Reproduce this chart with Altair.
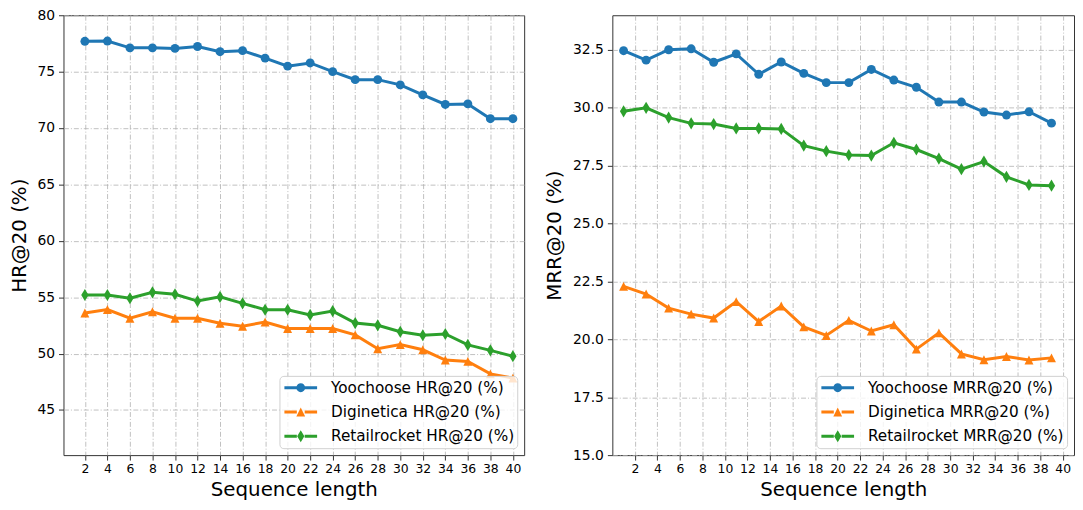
import altair as alt
import pandas as pd

# ---------------- data ----------------
x_hr = list(range(2, 41, 2))
x_mrr = list(range(1, 40, 2))
x_ticks = list(range(2, 41, 2))

yoo_hr = [77.69, 77.71, 77.11, 77.11, 77.06, 77.23, 76.77, 76.86, 76.20, 75.49,
          75.77, 75.00, 74.29, 74.29, 73.83, 72.94, 72.09, 72.14, 70.83, 70.83]
dig_hr = [53.60, 53.91, 53.14, 53.71, 53.14, 53.14, 52.69, 52.43, 52.80, 52.23,
          52.23, 52.23, 51.66, 50.43, 50.80, 50.34, 49.43, 49.31, 48.20, 47.83]
ret_hr = [55.20, 55.20, 54.91, 55.43, 55.26, 54.66, 55.03, 54.46, 53.89, 53.89,
          53.43, 53.77, 52.71, 52.51, 51.94, 51.63, 51.74, 50.77, 50.29, 49.77]

yoo_mrr = [32.47, 32.06, 32.51, 32.55, 31.97, 32.33, 31.45, 31.98, 31.49, 31.09,
           31.09, 31.66, 31.20, 30.89, 30.25, 30.25, 29.82, 29.69, 29.83, 29.34]
dig_mrr = [22.29, 21.96, 21.35, 21.09, 20.92, 21.63, 20.77, 21.44, 20.54, 20.17,
           20.82, 20.36, 20.63, 19.58, 20.28, 19.37, 19.12, 19.26, 19.11, 19.20]
ret_mrr = [29.85, 30.00, 29.58, 29.33, 29.30, 29.11, 29.11, 29.09, 28.37, 28.13,
           27.96, 27.94, 28.49, 28.20, 27.81, 27.35, 27.68, 27.02, 26.67, 26.64]

hr_names = ["Yoochoose HR@20 (%)", "Diginetica HR@20 (%)", "Retailrocket HR@20 (%)"]
mrr_names = ["Yoochoose MRR@20 (%)", "Diginetica MRR@20 (%)", "Retailrocket MRR@20 (%)"]
hr_yticks = [45, 50, 55, 60, 65, 70, 75, 80]
mrr_yticks = [15.0, 17.5, 20.0, 22.5, 25.0, 27.5, 30.0, 32.5]

# ---------------- styles ----------------
COLORS = ["#1f77b4", "#ff7f0e", "#2ca02c"]
FONT = "DejaVu Sans"
# data markers: circle, triangle-up, thin diamond
MARK_SHAPES = ["circle", "M0,-1L1,1L-1,1Z", "M0,-1L0.6,0L0,1L-0.6,0Z"]
MARK_SIZES = [81, 81, 151]


def legend_path(marker):
    line = ("M-1,-0.09L-0.24,-0.09L-0.24,0.09L-1,0.09Z "
            "M0.24,-0.09L1,-0.09L1,0.09L0.24,0.09Z ")
    return line + marker


LEGEND_SHAPES = [
    legend_path("M0.27,0A0.27,0.27 0 1,1 -0.27,0A0.27,0.27 0 1,1 0.27,0Z"),
    legend_path("M0,-0.27L0.27,0.27L-0.27,0.27Z"),
    legend_path("M0,-0.37L0.22,0L0,0.37L-0.22,0Z"),
]


def panel(xs, values, names, ytitle, ydomain, yticks, xdomain, yfmt, width):
    rows = []
    for name, vals in zip(names, values):
        for xv, yv in zip(xs, vals):
            rows.append({"x": xv, "y": yv, "series": name})
    df = pd.DataFrame(rows)
    base = alt.Chart(df)

    x_enc = alt.X("x:Q",
                  scale=alt.Scale(domain=xdomain, nice=False, zero=False),
                  axis=alt.Axis(values=x_ticks, title="Sequence length", format="d",
                                labelFontSize=12.5, labelPadding=3,
                                titleFontSize=20, titlePadding=4))
    y_enc = alt.Y("y:Q",
                  scale=alt.Scale(domain=ydomain, nice=False, zero=False),
                  axis=alt.Axis(values=yticks, title=ytitle, format=yfmt,
                                labelFontSize=14, labelPadding=4,
                                titleFontSize=20, titlePadding=8))

    layers = []
    for i, name in enumerate(names):
        sub = base.transform_filter(alt.datum.series == name)
        layers.append(sub.mark_line(color=COLORS[i], strokeWidth=3).encode(x=x_enc, y=y_enc))
        layers.append(sub.mark_point(filled=True, color=COLORS[i], opacity=1,
                                     shape=MARK_SHAPES[i], size=MARK_SIZES[i])
                      .encode(x=x_enc, y=y_enc))

    leg = alt.Legend(title=None, orient="bottom-right", offset=7,
                     labelFont=FONT, labelFontSize=15.4, labelColor="black",
                     labelLimit=0, labelOffset=14, symbolSize=1089, symbolOffset=2,
                     labelExpr="datum.label + '\u2002\u2002'",
                     clipHeight=18, symbolStrokeWidth=0, symbolOpacity=1,
                     padding=3, rowPadding=6.5,
                     strokeColor="#d0d0d0", fillColor="rgba(255,255,255,0.8)",
                     cornerRadius=4)
    legend_layer = base.transform_filter("datum.y < -1000").mark_point(filled=True).encode(
        x=x_enc, y=y_enc,
        color=alt.Color("series:N", scale=alt.Scale(domain=names, range=COLORS), legend=leg),
        shape=alt.Shape("series:N", scale=alt.Scale(domain=names, range=LEGEND_SHAPES), legend=leg),
    )
    layers.append(legend_layer)
    return alt.layer(*layers).properties(width=width, height=444)


left = panel(x_hr, [yoo_hr, dig_hr, ret_hr], hr_names, "HR@20 (%)",
             [41, 80], hr_yticks, [0.1, 41], "d", 465)
right = panel(x_mrr, [yoo_mrr, dig_mrr, ret_mrr], mrr_names, "MRR@20 (%)",
              [15, 34], mrr_yticks, [0, 41], ".1f", 466)

chart = (
    alt.hconcat(left, right, spacing=19)
    .resolve_scale(color="independent", shape="independent")
    .resolve_legend(color="independent", shape="independent")
    .properties(padding={"left": 0, "top": -3, "right": 0, "bottom": 0})
    .configure_view(stroke="#333333", strokeWidth=1)
    .configure_axis(
        labelFont=FONT, titleFont=FONT, labelColor="black", titleColor="black",
        titleFontWeight="normal", domain=False, tickColor="#333333", tickSize=5,
        tickWidth=1, grid=True, gridColor="#b0b0b0", gridOpacity=0.8,
        gridDash=[5, 2, 1, 2], gridWidth=1,
    )
)

chart.save("out.html", embed_options={"renderer": "svg", "actions": False})
